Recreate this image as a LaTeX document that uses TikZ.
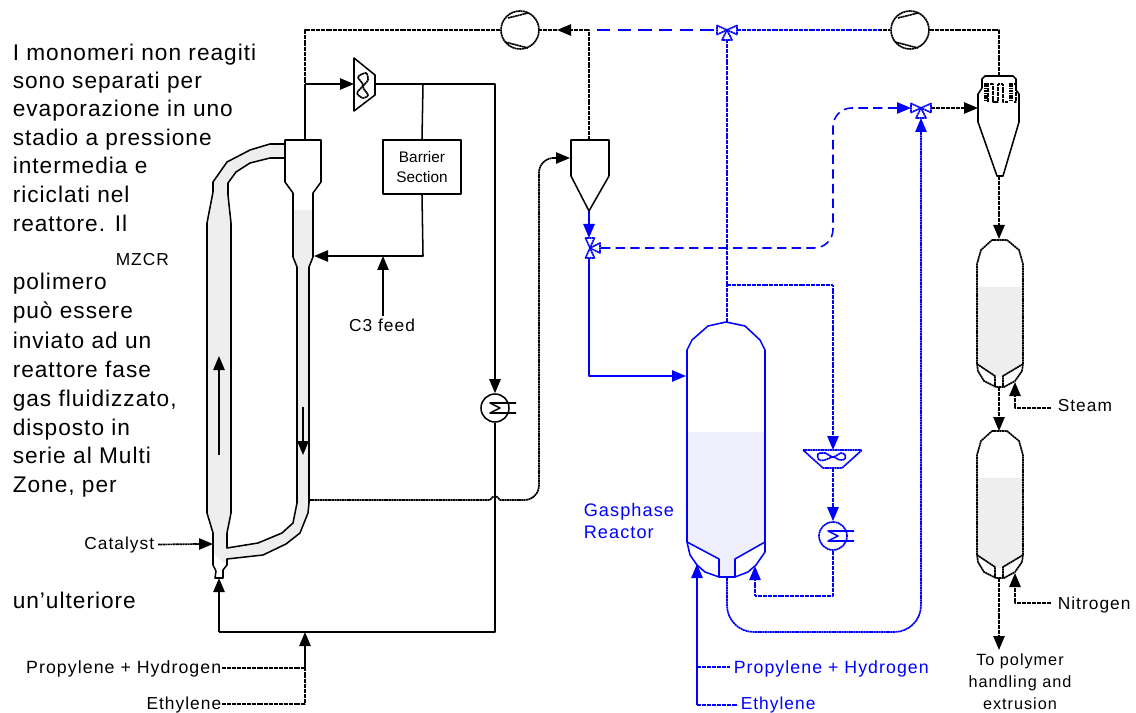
\documentclass[tikz,border=0pt]{standalone}
\usepackage{fontspec}
\setmainfont{Liberation Sans}
\newfontfamily\sidefont[LetterSpace=4.4]{Liberation Sans}
\newfontfamily\labelfont[LetterSpace=6]{Liberation Sans}
\usepackage{xcolor}
\usetikzlibrary{arrows.meta}
\definecolor{flowblue}{RGB}{0,0,255}
\definecolor{bedgray}{RGB}{238,238,238}
\definecolor{bedblue}{RGB}{238,238,252}
\tikzset{
  >={Triangle[length=10.5pt,width=8.5pt]},
  pipe/.style={line width=1.15pt,line join=round},
  dotline/.style={pipe,line width=1.25pt,dash pattern=on 1.5pt off 0.35pt},
  longdash/.style={pipe,dash pattern=on 10pt off 5.5pt},
  shortdash/.style={pipe,dash pattern=on 7pt off 4pt},
  hatch/.style={line width=3pt,dash pattern=on 1.2pt off 0.6pt},
  sidetext/.style={anchor=base west,inner sep=0pt,font=\sidefont\fontsize{17}{17}\selectfont},
  label/.style={inner sep=0pt,font=\labelfont\fontsize{13}{13}\selectfont},
  feedlabel/.style={inner sep=0pt,font=\labelfont\fontsize{13.3}{13}\selectfont},
  compressor/.style={circle,dotline,draw,minimum size=28.5pt,inner sep=0pt},
  cooler/.style={circle,draw,minimum size=21pt,inner sep=0pt},
  valve/.pic={
    \draw[fill=white] (0,0) -- (-10,-4.5) -- (-10,4.5) -- cycle;
    \draw[fill=white] (0,0) -- (10,-4.5) -- (10,4.5) -- cycle;
    \draw[fill=white] (0,0) -- (-5,10) -- (5,10) -- cycle;
  },
  sumsign/.pic={
    \draw (21,-5) -- (-5,-5) -- (5,0) -- (-5,5) -- (21,5);
  },
  rotor/.pic={
    \draw[dotline] (-12,-12) -- (8,-17);
    \draw[dotline] (-15,12) -- (8,18);
  },
  vessel/.pic={
    \fill[bedgray] (-22,47) -- (24,47) -- (24,124) -- (4,137) -- (-4,137) -- (-22,124) -- cycle;
    \draw[dotline] (-7,0) -- (8,0) -- (20,10) -- (24,24) -- (24,124) -- (23,131) -- (16,141) -- (5,147)
      -- (-3,147) -- (-15,141) -- (-21,131) -- (-22,124) -- (-22,24) -- (-18,10) -- cycle;
    \draw[dotline] (-22,124) -- (-4,136) -- (-4,147);
    \draw[dotline] (24,124) -- (4,136) -- (4,147);
  }
}

\begin{document}
\begin{tikzpicture}[x=0.75pt,y=-0.75pt,pipe]
\useasboundingbox (0,0) rectangle (1136,713);

% side text
\node[sidetext] (side1) at (12,61) {I monomeri non reagiti};
\node[sidetext] (side2) at (12,89) {sono separati per};
\node[sidetext] (side3) at (12,117) {evaporazione in uno};
\node[sidetext] (side4) at (12,146) {stadio a pressione};
\node[sidetext] (side5) at (12,174) {intermedia e};
\node[sidetext] (side6) at (12,203) {riciclati nel};
\node[sidetext] (side7) at (12,232) {reattore. Il};
\node[sidetext] (side8) at (12,290) {polimero};
\node[sidetext] (side9) at (12,319) {può essere};
\node[sidetext] (side10) at (12,348) {inviato ad un};
\node[sidetext] (side11) at (12,377) {reattore fase};
\node[sidetext] (side12) at (12,406) {gas fluidizzato,};
\node[sidetext] (side13) at (12,435) {disposto in};
\node[sidetext] (side14) at (12,463) {serie al Multi};
\node[sidetext] (side15) at (12,492) {Zone, per};
\node[sidetext] (side16) at (12,608) {un’ulteriore};
\node[label,anchor=base west] (mzcr) at (115,266) {MZCR};

% loop reactor
\fill[bedgray] (285,144) -- (270,144) -- (250,150) -- (227,162) -- (213,182) -- (213,192) -- (207,223)
  -- (207,513) -- (213,533) -- (213,553) -- (227,566) -- (227,559) -- (263,555) -- (286,544) -- (300,533) -- (308,513)
  -- (309,503) -- (309,267) -- (313,257) -- (313,210) -- (293,210) -- (293,257) -- (297,267) -- (297,503)
  -- (293,523) -- (282,533) -- (258,543) -- (227,548) -- (227,533) -- (231,513) -- (231,223) -- (228,195)
  -- (228,183) -- (236,172) -- (250,163) -- (270,158) -- (285,158) -- cycle;
\draw (285,144) -- (270,144) -- (250,150) -- (227,162) -- (213,182) -- (213,192) -- (207,223)
  -- (207,513) -- (213,533) -- (213,565) -- (216,571) -- (215,578) -- (223,578) -- (223,570) -- (227,565)
  -- (227,559) -- (263,555) -- (286,544) -- (300,533) -- (308,513) -- (309,503) -- (309,267) -- (313,257)
  -- (313,193) -- (321,182) -- (321,140) -- (285,140) -- (285,182) -- (293,193) -- (293,257) -- (297,267)
  -- (297,503) -- (293,523) -- (282,533) -- (258,543) -- (227,548) -- (227,533) -- (231,513) -- (231,223)
  -- (228,195) -- (228,183) -- (236,172) -- (250,163) -- (270,158) -- (285,158);
\draw[->] (219,455) -- (219,356);
\draw[->] (303,407) -- (303,455);

% reactor
\fill[bedblue] (687,432) rectangle (765,542);
\fill[bedblue] (687,542) -- (719,559) -- (719,577) -- (735,577) -- (735,559) -- (765,542) -- cycle;
\draw[flowblue] (726,322) -- (745,326) -- (760,340) -- (765,350) -- (765,552) -- (756,565) -- (748,572) -- (735,577)
  -- (719,577) -- (705,572) -- (697,565) -- (690,555) -- (687,542) -- (687,350) -- (692,340) -- (708,326) -- cycle;
\draw[flowblue] (687,542) -- (719,559) -- (719,577);
\draw[flowblue] (765,542) -- (735,559) -- (735,577);

% separators
\draw (589,211) -- (571,176) -- (571,140) -- (609,140) -- (609,176) -- cycle;
\draw (982,88) -- (982,79) -- (985,76) -- (1013,76) -- (1016,79) -- (1016,90) -- (1019,94) -- (1019,122) -- (1003,176)
  -- (997,176) -- (978,122) -- (978,94) -- cycle;
\draw[hatch] (986,83) -- (986,102);
\draw[hatch] (1011,83) -- (1011,102);
\draw[dotline] (988,102) -- (988,84) -- (993,84) -- (993,102) -- (998,102) -- (998,84) -- (1003,84) -- (1003,102) -- (1008,102);
\draw[dotline] (1014,84) -- (1016,84) -- (1016,102) -- (1014,102);
\draw (354,58) -- (375,75) -- (375,95) -- (354,111) -- cycle;
\draw[dotline] plot[smooth cycle] coordinates {(366,73) (358,77) (363,85) (357,93) (363,98) (368,95) (363,87) (368,80)};
\draw[flowblue,dotline] (803,450) -- (862,450) -- (842,468) -- (823,468) -- cycle;
\draw[flowblue,dotline] plot[smooth cycle] coordinates {(818,454) (825,453) (833,457) (841,453) (845,455) (845,459) (840,460) (833,457) (825,460) (819,460)};
\pic at (999,240) {vessel};
\pic at (999,431) {vessel};

% equipment
\node[compressor] (compA) at (520,30) {};
\node[compressor] (compB) at (910,30) {};
\pic at (compA) {rotor};
\pic at (compB) {rotor};
\node[draw,minimum width=58.5pt,minimum height=40.5pt,inner sep=0pt,align=center,
  font=\fontsize{11.5}{15}\selectfont] (barrier) at (422,167) {Barrier\\Section};
\node[cooler] (coolA) at (495,408) {};
\node[cooler,flowblue,dotline] (coolB) at (833,536) {};
\pic at (coolA) {sumsign};
\pic[flowblue] at (coolB) {sumsign};
\pic[flowblue,dotline] at (727,30) {valve};
\pic[flowblue,dotline] at (921,108) {valve};
\pic[flowblue,dotline,rotate=90] at (590,248) {valve};

% connection points
\coordinate (top) at (305,140);
\coordinate (topup) at (305,30);
\coordinate (topjoin) at (305,84);
\coordinate (mixin) at (354,84);
\coordinate (mixout) at (375,84);
\coordinate (barjoin) at (423,84);
\coordinate (coolturn) at (495,84);
\coordinate (barturn) at (423,256);
\coordinate (riserfeed) at (314,256);
\coordinate (cthree) at (383,256);
\coordinate (loopbase) at (495,632);
\coordinate (loopleft) at (219,632);
\coordinate (loopin) at (219,578);
\coordinate (feedjoin) at (305,632);
\coordinate (feedprop) at (305,668);
\coordinate (feedeth) at (305,704);
\coordinate (catin) at (213,544);
\coordinate (downout) at (310,500);
\coordinate (sepin) at (570,158);
\coordinate (septop) at (589,140);
\coordinate (sepup) at (589,30);
\coordinate (septip) at (589,211);
\coordinate (valveAw) at (717,30);
\coordinate (valveAe) at (737,30);
\coordinate (valveAs) at (727,40);
\coordinate (valveBw) at (911,108);
\coordinate (valveBe) at (931,108);
\coordinate (valveBs) at (921,118);
\coordinate (valveCn) at (589,238);
\coordinate (valveCs) at (589,258);
\coordinate (valveCe) at (601,248);
\coordinate (reactin) at (686,376);
\coordinate (reacttop) at (727,322);
\coordinate (recyc) at (727,285);
\coordinate (reactout) at (727,577);
\coordinate (feedA) at (697,564);
\coordinate (feedB) at (755,566);
\coordinate (cycin) at (978,108);
\coordinate (cyctop) at (999,76);
\coordinate (cycout) at (999,176);
\coordinate (dryAtop) at (999,239);
\coordinate (dryAout) at (999,387);
\coordinate (dryBtop) at (999,431);
\coordinate (dryBout) at (999,578);
\coordinate (steamin) at (1015,408);
\coordinate (nitroin) at (1015,603);

% labels
\node[label,anchor=base] (cfeed) at (382,331) {C3 feed};
\node[label,anchor=base east] (catalyst) at (155,549) {Catalyst};
\node[feedlabel,anchor=base east] (propA) at (222,673) {Propylene + Hydrogen};
\node[label,anchor=base east] (ethA) at (222,709) {Ethylene};
\node[feedlabel,anchor=base west,flowblue] (propB) at (733,673) {Propylene + Hydrogen};
\node[label,anchor=base west,flowblue] (ethB) at (740,709) {Ethylene};
\node[label,anchor=base west] (steam) at (1057,411) {Steam};
\node[label,anchor=base west] (nitrogen) at (1057,609) {Nitrogen};
\node[label,flowblue,anchor=west,align=left,font=\labelfont\fontsize{13.6}{16.5}\selectfont] (gasphase) at (583,521) {Gasphase\\Reactor};
\node[label,align=center,font=\labelfont\fontsize{12.2}{16.3}\selectfont,anchor=north] (tohandling) at (1020,653) {To polymer\\handling and\\extrusion};

% black lines
\draw[dotline] (compA.west) -- (topup) -- (topjoin);
\draw (topjoin) -- (top);
\draw[->] (topjoin) -- (mixin);
\draw[->] (mixout) -- (coolturn) -- (coolA.north);
\draw (barjoin) -- (barrier.north);
\draw[->] (barrier.south) -- (barturn) -- (riserfeed);
\draw (coolA.south) -- (loopbase) -- (loopleft);
\draw[->] (loopleft) -- (loopin);
\draw[dotline] (downout) -- (490,500) .. controls (493,495) and (497,495) .. (500,500) -- (525,500);
\draw[dotline,rounded corners=11pt] (525,500) -- (539,500) -- (539,158) -- (552,158);
\draw[->] (552,158) -- (sepin);
\draw[dotline] (septop) -- (sepup) -- (570,30);
\draw[->] (570,30) -- (557,30);
\draw[dotline] (557,30) -- (compA.east);
\draw[dotline] (878,30) -- (compB.west);
\draw[dotline] (compB.east) -- (999,30) -- (cyctop);
\draw[dotline] (valveBe) -- (964,108);
\draw[->] (964,108) -- (cycin);
\draw[dotline] (cycout) -- (999,225);
\draw[->] (999,225) -- (dryAtop);
\draw[dotline] (dryAout) -- (999,417);
\draw[->] (999,417) -- (dryBtop);
\draw[dotline] (dryBout) -- (999,636);
\draw[->] (999,636) -- (999,650);
\draw[dotline] (catalyst.east -| 158,544) -- (198,544);
\draw[->] (198,544) -- (catin);
\draw[dotline] (propA.east |- feedprop) -- (feedprop);
\draw[dotline] (ethA.east |- feedeth) -- (feedeth) -- (feedprop);
\draw[->] (feedprop) -- (feedjoin);
\draw[->] (383,316) -- (cthree);
\draw[dotline] (1051,408) -- (steamin) -- (1015,394);
\draw[->] (1015,394) -- (1015,382);
\draw[dotline] (1051,603) -- (nitroin) -- (1015,585);
\draw[->] (1015,585) -- (1015,573);

% blue lines
\begin{scope}[flowblue]
\draw[longdash] (597,30) -- (valveAw);
\draw[dotline] (valveAe) -- (878,30);
\draw[dotline] (reacttop) -- (valveAs);
\draw[dotline] (recyc) -- (833,285) -- (833,436);
\draw[->] (833,436) -- (833,450);
\draw[dotline] (833,468) -- (833,510);
\draw[->] (833,510) -- (coolB.north);
\draw[dotline] (coolB.south) -- (833,596) -- (755,596) -- (755,578);
\draw[->] (755,578) -- (feedB);
\draw[->] (septip) -- (valveCn);
\draw[->] (valveCs) -- (589,376) -- (reactin);
\draw[shortdash,rounded corners=14pt] (valveCe) -- (833,248) -- (833,108) -- (896,108);
\draw[->] (896,108) -- (valveBw);
\draw[dotline,rounded corners=20pt] (reactout) -- (727,632) -- (921,632) -- (921,132);
\draw[->] (921,132) -- (valveBs);
\draw[->] (697,705) -- (feedA);
\draw[dotline] (697,667) -- (730,667);
\draw[dotline] (697,705) -- (737,705);
\end{scope}
\end{tikzpicture}
\end{document}
